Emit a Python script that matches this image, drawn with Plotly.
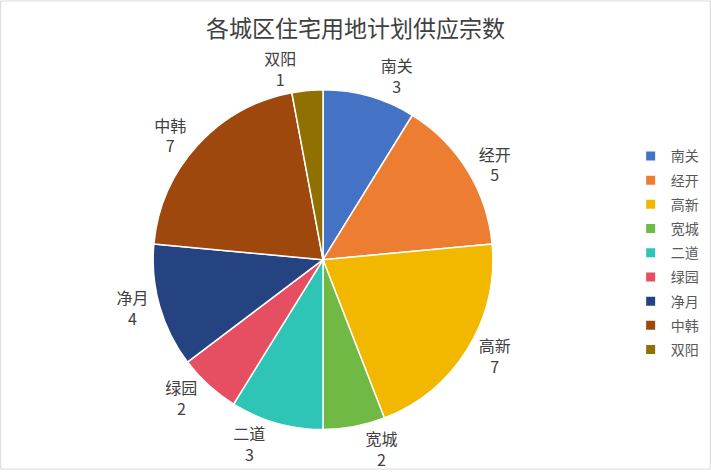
import plotly.graph_objects as go

districts = ["南关", "经开", "高新", "宽城", "二道", "绿园", "净月", "中韩", "双阳"]
counts = [3, 5, 7, 2, 3, 2, 4, 7, 1]
colors = ["#4472C4", "#ED7D31", "#F2B800", "#70B944", "#2EC4B6",
          "#E64E62", "#254380", "#9E480E", "#8F7000"]

labels_txt = [f"{d}<br>{c}" for d, c in zip(districts, counts)]

fig = go.Figure(go.Pie(
    labels=districts,
    values=counts,
    text=labels_txt,
    textinfo="text",
    textposition="outside",
    sort=False,
    direction="clockwise",
    rotation=0,
    marker=dict(colors=colors, line=dict(color="white", width=1.5)),
    textfont=dict(size=16, color="#404040"),
    domain=dict(x=[0.2125, 0.6961], y=[0.0861, 0.8089]),
    showlegend=False,
))

# legend entries as separate groups so the spacing can be widened
for d, c in zip(districts, colors):
    fig.add_trace(go.Scatter(
        x=[None], y=[None], mode="markers", name=d, legendgroup=d,
        marker=dict(symbol="square", size=9, color=c),
    ))

fig.update_layout(
    width=711, height=476,
    margin=dict(l=0, r=0, t=0, b=0),
    paper_bgcolor="white",
    plot_bgcolor="white",
    xaxis=dict(visible=False),
    yaxis=dict(visible=False),
    font=dict(family="Noto Sans CJK SC, sans-serif", color="#595959"),
    title=dict(text="各城区住宅用地计划供应宗数", x=0.5, xanchor="center",
               y=0.94, yanchor="middle",
               font=dict(size=23, color="#404040")),
    legend=dict(x=0.887, xanchor="left", y=0.462, yanchor="middle",
                font=dict(size=14, color="#595959"),
                tracegroupgap=3),
    shapes=[dict(type="rect", xref="paper", yref="paper", x0=0.001, y0=0.002,
                 x1=0.999, y1=0.998, line=dict(color="#D9D9D9", width=1))],
)

fig.write_html("out.html", config={"displayModeBar": False},
               post_script="document.body.style.margin='0';")
